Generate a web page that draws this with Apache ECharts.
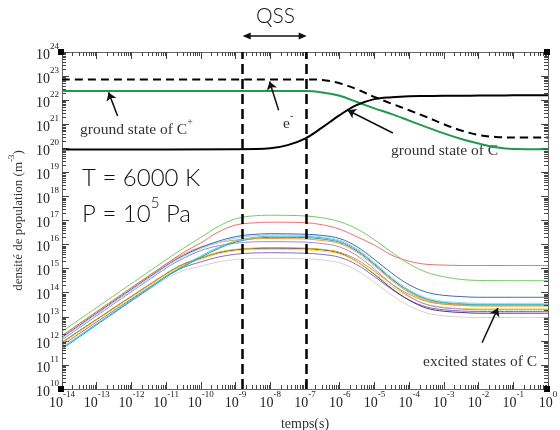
<!DOCTYPE html>
<html><head><meta charset="utf-8">
<script src="https://cdn.jsdelivr.net/npm/echarts@6/dist/echarts.min.js"></script>
<style>html,body{margin:0;padding:0;background:#fff}#c{width:560px;height:430px}</style>
</head><body><div id="c"></div>
<script>
// time grid for excited states (s)
const tEx = [1e-14,1e-11,3.16e-11,1e-10,3.16e-10,1e-9,3.16e-9,1e-8,1e-7,3.16e-7,1e-6,3.16e-6,1e-5,3.16e-5,1e-4,3.16e-4,1e-3,3.16e-3,1e-2,1e-1,1];
// time grid for ground states / electrons (s)
const tMain = [1e-14,1e-9,1e-8,3.16e-8,1e-7,3.16e-7,1e-6,3.16e-6,1e-5,3.16e-5,1e-4,3.16e-4,1e-3,3.16e-3,1e-2,3.16e-2,1e-1,1];

const electrons = [7.24e22,7.24e22,7.24e22,7.24e22,7.24e22,6.92e22,5.01e22,2.82e22,1.35e22,7.08e21,3.8e21,2.0e21,1.0e21,5.5e20,3.55e20,2.95e20,2.82e20,2.82e20];
const groundCplus = [2.4e22,2.4e22,2.4e22,2.4e22,2.4e22,2.09e22,1.51e22,8.32e21,4.57e21,2.63e21,1.41e21,7.59e20,4.17e20,2.45e20,1.58e20,1.1e20,9.33e19,9.12e19];
const groundC = [8.91e19,9.12e19,1.0e20,1.35e20,2.51e20,7.41e20,2.4e21,6.31e21,1.1e22,1.32e22,1.45e22,1.48e22,1.51e22,1.51e22,1.55e22,1.55e22,1.58e22,1.58e22];

const exGreen = [2.45e12,2.34e15,7.08e15,2.0e16,5.62e16,1.17e17,1.55e17,1.66e17,1.55e17,1.29e17,8.9e16,4.47e16,1.58e16,4.8e15,1.58e15,7.1e14,4.6e14,3.55e14,3.24e14,3.16e14,3.16e14];
const exRed = [1.62e12,1.55e15,4.79e15,1.17e16,3.31e16,6.46e16,7.94e16,8.51e16,8.13e16,6.61e16,4.37e16,2.09e16,9.55e15,3.63e15,2.04e15,1.51e15,1.41e15,1.35e15,1.35e15,1.35e15,1.35e15];
const exBlue = [1.41e12,1.35e15,3.55e15,7.59e15,1.38e16,2.14e16,2.63e16,2.82e16,2.69e16,2.4e16,1.78e16,8.13e15,2.4e15,6.46e14,2.14e14,1.05e14,7.76e13,6.92e13,6.46e13,6.46e13,6.46e13];
const exLightCyan = [1.26e12,1.2e15,3.16e15,6.76e15,1.2e16,1.86e16,2.29e16,2.51e16,2.4e16,2.09e16,1.51e16,6.61e15,1.78e15,4.27e14,1.32e14,6.17e13,4.37e13,3.89e13,3.63e13,3.63e13,3.63e13];
const exCyan = [5.01e11,4.9e14,1.32e15,3.31e15,7.59e15,1.41e16,1.95e16,2.24e16,2.19e16,1.91e16,1.38e16,6.03e15,1.62e15,3.89e14,1.2e14,5.62e13,3.98e13,3.55e13,3.31e13,3.31e13,3.31e13];
const exOrange = [1.66e12,1.58e15,3.98e15,7.94e15,1.2e16,1.55e16,1.74e16,1.78e16,1.7e16,1.48e16,1.1e16,4.79e15,1.32e15,3.24e14,1.02e14,4.79e13,3.47e13,3.09e13,2.88e13,2.88e13,2.88e13];
const exLightPurple = [1.1e12,1.05e15,2.69e15,5.62e15,8.91e15,1.15e16,1.29e16,1.32e16,1.26e16,1.1e16,7.94e15,3.47e15,9.55e14,2.29e14,7.08e13,3.24e13,2.34e13,2.09e13,1.95e13,1.95e13,1.95e13];
const exGold = [8.91e11,6.31e14,1.58e15,2.82e15,4.79e15,6.31e15,7.08e15,7.41e15,7.08e15,6.31e15,4.79e15,2.34e15,7.76e14,2.29e14,8.51e13,4.37e13,3.31e13,2.95e13,2.82e13,2.82e13,2.82e13];
const exYellow = [7.94e11,5.62e14,1.41e15,2.51e15,4.17e15,5.5e15,6.17e15,6.31e15,6.03e15,5.37e15,4.07e15,1.95e15,6.31e14,1.82e14,6.61e13,3.31e13,2.51e13,2.24e13,2.14e13,2.14e13,2.14e13];
const exDarkPurple = [8.51e11,6.03e14,1.51e15,2.63e15,4.47e15,6.03e15,6.76e15,7.08e15,6.76e15,6.03e15,4.37e15,1.95e15,5.75e14,1.48e14,4.9e13,2.29e13,1.7e13,1.51e13,1.41e13,1.41e13,1.41e13];
const exViolet = [6.61e11,4.79e14,1.12e15,1.91e15,3.02e15,3.98e15,4.47e15,4.57e15,4.37e15,3.89e15,2.95e15,1.45e15,4.68e14,1.38e14,5.01e13,2.57e13,1.95e13,1.74e13,1.66e13,1.66e13,1.66e13];
const exGray = [5.62e11,3.8e14,8.32e14,1.26e15,1.91e15,2.4e15,2.63e15,2.69e15,2.57e15,2.29e15,1.74e15,8.32e14,2.69e14,7.94e13,2.88e13,1.45e13,1.1e13,9.77e12,9.33e12,9.33e12,9.33e12];
const exTeal = [4.57e11,4.47e14,1.2e15,2.95e15,6.76e15,1.26e16,1.74e16,2.0e16,1.95e16,1.7e16,1.23e16,5.37e15,1.48e15,3.63e14,1.15e14,5.37e13,3.8e13,3.31e13,3.16e13,3.16e13,3.16e13];

const qssStart = 1.6e-9, qssEnd = 1.12e-7;
const xMin = 1e-14, xMax = 1, yMin = 1e10, yMax = 1e24;

const excited = [
  {d: exGray, c: '#d3d3d3'},
  {d: exViolet, c: '#8b6bbd'},
  {d: exDarkPurple, c: '#5c2d84'},
  {d: exYellow, c: '#e6dc4a'},
  {d: exGold, c: '#c9a227'},
  {d: exLightPurple, c: '#a88ccf'},
  {d: exTeal, c: '#2a9d9a'},
  {d: exCyan, c: '#45bfd0'},
  {d: exOrange, c: '#ef9b40'},
  {d: exLightCyan, c: '#9fd8e6'},
  {d: exBlue, c: '#3e6db5'},
  {d: exRed, c: '#f07070'},
  {d: exGreen, c: '#78c86a'}
];

const serif = '"Liberation Serif","DejaVu Serif",serif';
const geo = 'Lato,"Noto Sans",sans-serif';

// minor tick positions (log 2..9)
const minorX = [], minorY = [];
for (let e = -14; e < 0; e++) for (let m = 2; m <= 9; m++) minorX.push(m * Math.pow(10, e));
for (let e = 10; e < 24; e++) for (let m = 2; m <= 9; m++) minorY.push(m * Math.pow(10, e));

function pow10Label(v) {
  const e = Math.round(Math.log10(v));
  return '{a|10}{b|' + e + '}';
}
const labelRich = {
  a: {fontFamily: serif, fontSize: 14, color: '#222', lineHeight: 20, verticalAlign: 'bottom'},
  b: {fontFamily: serif, fontSize: 9, color: '#222', lineHeight: 20, verticalAlign: 'top'}
};

const zip = (t, v) => t.map((x, i) => [x, v[i]]);

const series = [];
excited.forEach(s => {
  series.push({type: 'line', data: zip(tEx, s.d), showSymbol: false, smooth: 0.35,
    lineStyle: {color: s.c, width: 1}, silent: true, z: 2});
});
series.push({type: 'line', name: 'Cplus', data: zip(tMain, groundCplus), showSymbol: false, smooth: 0.35,
  lineStyle: {color: '#1f9a4c', width: 2}, z: 4, silent: true});
series.push({type: 'line', name: 'e', data: zip(tMain, electrons), showSymbol: false, smooth: 0.35,
  lineStyle: {color: '#000', width: 2, type: [8, 5]}, z: 4, silent: true,
  markLine: {silent: true, symbol: 'none', label: {show: false},
    lineStyle: {color: '#000', width: 2.5, type: [10, 5]},
    data: [
      [{coord: [qssStart, 1.0001e10]}, {coord: [qssStart, 0.9999e24]}],
      [{coord: [qssEnd, 1.0001e10]}, {coord: [qssEnd, 0.9999e24]}]
    ]}});
series.push({type: 'line', name: 'C', data: zip(tMain, groundC), showSymbol: false, smooth: 0.35,
  lineStyle: {color: '#000', width: 2}, z: 4, silent: true,
  markLine: {silent: true, symbol: ['none', 'arrow'], symbolSize: 8, label: {show: false},
    lineStyle: {color: '#111', width: 1.5, type: 'solid'},
    data: [
      [{coord: [4e-13, 2.2e21]}, {coord: [2.2e-13, 2.1e22]}],
      [{coord: [1.74e-8, 3.8e21]}, {coord: [9.5e-9, 6.0e22]}],
      [{coord: [3.4e-5, 4.3e20]}, {coord: [1.7e-6, 3.8e21]}],
      [{coord: [1.26e-2, 8.3e11]}, {coord: [3.6e-2, 2.3e13]}]
    ]}});
// minor ticks, drawn through the axis scales
series.push({type: 'custom', silent: true, clip: false, z: 5, data: minorX.map(v => [v, yMin]),
  renderItem: (p, api) => {
    const v = api.value(0);
    const b = api.coord([v, yMin]), t = api.coord([v, yMax]);
    const x = Math.round(b[0]) + 0.5;
    return {type: 'group', children: [
      {type: 'line', shape: {x1: x, y1: b[1], x2: x, y2: b[1] - 4}, style: {stroke: '#444', lineWidth: 1}},
      {type: 'line', shape: {x1: x, y1: t[1], x2: x, y2: t[1] + 4}, style: {stroke: '#444', lineWidth: 1}}
    ]};
  }});
series.push({type: 'custom', silent: true, clip: false, z: 5, data: minorY.map(v => [xMin, v]),
  renderItem: (p, api) => {
    const v = api.value(1);
    const l = api.coord([xMin, v]), r = api.coord([xMax, v]);
    const y = Math.round(l[1]) + 0.5;
    return {type: 'group', children: [
      {type: 'line', shape: {x1: l[0], y1: y, x2: l[0] + 4, y2: y}, style: {stroke: '#444', lineWidth: 1}},
      {type: 'line', shape: {x1: r[0], y1: y, x2: r[0] - 4, y2: y}, style: {stroke: '#444', lineWidth: 1}}
    ]};
  }});
// corner squares
series.push({type: 'custom', silent: true, clip: false, z: 6,
  data: [[xMin, yMin], [xMax, yMin], [xMin, yMax], [xMax, yMax]],
  renderItem: (p, api) => {
    const c = api.coord([api.value(0), api.value(1)]);
    return {type: 'rect', shape: {x: c[0] - 4, y: c[1] - 3, width: 6, height: 6}, style: {fill: '#000'}};
  }});

const axisCommon = {
  type: 'log', logBase: 10, interval: 1,
  axisLine: {show: true, lineStyle: {color: '#666', width: 1}},
  axisTick: {show: true, inside: true, length: 7, lineStyle: {color: '#444'}},
  splitLine: {show: false}
};

const option = {
  animation: false,
  backgroundColor: '#fff',
  grid: {left: 62, right: 12, top: 52, bottom: 41, containLabel: false, outerBoundsMode: 'none'},
  xAxis: [
    Object.assign({}, axisCommon, {min: xMin, max: xMax, position: 'bottom',
      name: 'temps(s)', nameLocation: 'middle', nameGap: 28,
      nameTextStyle: {fontFamily: serif, fontSize: 14, color: '#333'},
      axisLabel: {interval: 0, margin: 1, formatter: pow10Label, rich: labelRich}}),
    Object.assign({}, axisCommon, {min: xMin, max: xMax, position: 'top', axisLabel: {show: false}})
  ],
  yAxis: [
    Object.assign({}, axisCommon, {min: yMin, max: yMax, position: 'left',
      name: '{n|densité de population (m}{s|-3}{n|)}', nameLocation: 'middle', nameGap: 32, nameRotate: 90,
      nameTextStyle: {rich: {n: {fontFamily: serif, fontSize: 13, color: '#333', lineHeight: 18, verticalAlign: 'bottom'},
                             s: {fontFamily: serif, fontSize: 9, color: '#333', lineHeight: 18, verticalAlign: 'top'}}},
      axisLabel: {interval: 0, margin: 3, formatter: pow10Label, rich: labelRich}}),
    Object.assign({}, axisCommon, {min: yMin, max: yMax, position: 'right', axisLabel: {show: false}})
  ],
  series: series
};

const chart = echarts.init(document.getElementById('c'), null, {renderer: 'canvas'});
chart.setOption(option);

// annotations positioned through the axis scales
const px = v => chart.convertToPixel({xAxisIndex: 0}, v);
const x1 = px(qssStart), x2 = px(qssEnd), ya = 36;
const ann = '15.5px ' + serif;
chart.setOption({graphic: [
  {type: 'text', left: 82, top: 166, style: {text: 'T = 6000 K', font: '300 24px ' + geo, fill: '#111'}},
  {type: 'text', left: 82, top: 196, style: {text: '{a|P = 10}{b|5}{a| Pa}', fill: '#111',
    rich: {a: {font: '300 24px ' + geo, lineHeight: 30, verticalAlign: 'bottom'}, b: {font: '300 15px ' + geo, lineHeight: 30, verticalAlign: 'top'}}}},
  {type: 'text', left: 256, top: 6, style: {text: 'QSS', font: '300 21px ' + geo, fill: '#111'}},
  {type: 'line', shape: {x1: x1 + 2, y1: ya, x2: x2 - 2, y2: ya}, style: {stroke: '#111', lineWidth: 1.3}},
  {type: 'polygon', shape: {points: [[x1, ya], [x1 + 8, ya - 3.5], [x1 + 8, ya + 3.5]]}, style: {fill: '#111'}},
  {type: 'polygon', shape: {points: [[x2, ya], [x2 - 8, ya - 3.5], [x2 - 8, ya + 3.5]]}, style: {fill: '#111'}},
  {type: 'text', left: 80, top: 117, style: {text: '{a|ground state of C}{b|+}', fill: '#333',
    rich: {a: {font: ann, lineHeight: 21, verticalAlign: 'bottom'}, b: {font: '10px ' + serif, lineHeight: 21, verticalAlign: 'top'}}}},
  {type: 'text', left: 283, top: 111, style: {text: '{a|e}{b|-}', fill: '#333',
    rich: {a: {font: ann, lineHeight: 21, verticalAlign: 'bottom'}, b: {font: '10px ' + serif, lineHeight: 21, verticalAlign: 'top'}}}},
  {type: 'text', left: 391, top: 143, style: {text: 'ground state of C', font: ann, fill: '#333'}},
  {type: 'text', left: 423, top: 354, style: {text: 'excited states of C', font: ann, fill: '#333'}}
]});
</script></body></html>
